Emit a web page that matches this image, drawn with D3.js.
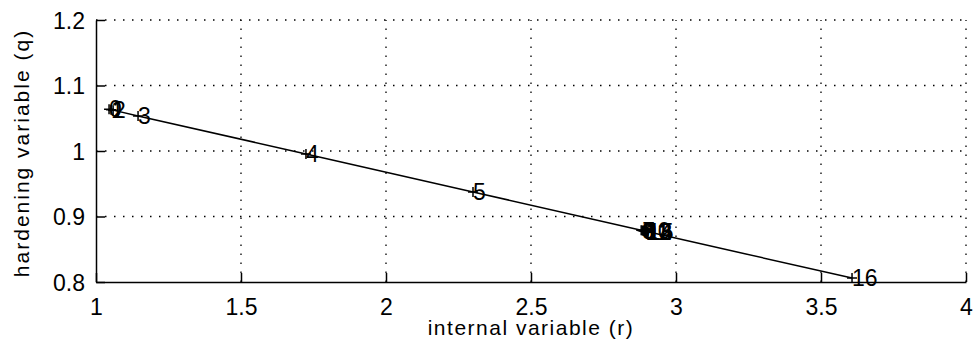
<!DOCTYPE html>
<html>
<head>
<meta charset="utf-8">
<script src="https://cdn.jsdelivr.net/npm/d3@7"></script>
<style>
    body { margin: 0; background: #fff; }
    text { font-family: "Liberation Sans", Arial, sans-serif; fill: #000; }
</style>
</head>
<body>
<div id="chart"></div>
<script>
// iteration values: internal variable r, hardening variable q
var iterLabels = ["0", "1", "2", "3", "4", "5", "6", "7", "8", "9", "10", "11", "12", "13", "14", "15", "16"];
var rValues = [1.045, 1.052, 1.059, 1.145, 1.724, 2.300, 2.880, 2.884, 2.887, 2.890, 2.893, 2.895, 2.897, 2.899, 2.901, 2.903, 3.607];
var qValues = [1.0638, 1.0631, 1.0624, 1.0535, 0.9955, 0.9375, 0.8790, 0.8786, 0.8783, 0.8780, 0.8777, 0.8775, 0.8773, 0.8771, 0.8769, 0.8767, 0.8060];

var xTicks = [1, 1.5, 2, 2.5, 3, 3.5, 4];
var yTicks = [0.8, 0.9, 1, 1.1, 1.2];

var width = 975, height = 358;
var margin = {top: 20, right: 9, bottom: 76, left: 96};

var svg = d3.select("#chart").append("svg")
    .attr("width", width)
    .attr("height", height);

var xScale = d3.scaleLinear()
    .domain([1, 4])
    .range([margin.left, width - margin.right]);

var yScale = d3.scaleLinear()
    .domain([0.8, 1.2])
    .range([height - margin.bottom, margin.top]);

// dotted grid
svg.append("g").selectAll("line")
    .data(xTicks.slice(1))
    .enter().append("line")
    .attr("x1", function(d) { return xScale(d); })
    .attr("x2", function(d) { return xScale(d); })
    .attr("y1", yScale(0.8))
    .attr("y2", yScale(1.2))
    .attr("stroke", "#000")
    .attr("stroke-width", 1.3)
    .attr("stroke-dasharray", "1.5,7.5");

svg.append("g").selectAll("line")
    .data(yTicks.slice(1))
    .enter().append("line")
    .attr("x1", xScale(1))
    .attr("x2", xScale(4))
    .attr("y1", function(d) { return yScale(d); })
    .attr("y2", function(d) { return yScale(d); })
    .attr("stroke", "#000")
    .attr("stroke-width", 1.3)
    .attr("stroke-dasharray", "1.5,7.5");

// axes, ticks pointing inward like matlab
var fmt = function(d) { return String(d); };

var xAxis = d3.axisBottom(xScale)
    .tickValues(xTicks)
    .tickFormat(fmt)
    .tickSizeInner(-9)
    .tickSizeOuter(0)
    .tickPadding(17);

var yAxis = d3.axisLeft(yScale)
    .tickValues(yTicks)
    .tickFormat(fmt)
    .tickSizeInner(-9)
    .tickSizeOuter(0)
    .tickPadding(11);

var gx = svg.append("g")
    .attr("class", "x-axis")
    .attr("transform", "translate(0," + yScale(0.8) + ")")
    .call(xAxis);

var gy = svg.append("g")
    .attr("class", "y-axis")
    .attr("transform", "translate(" + xScale(1) + ",0)")
    .call(yAxis);

svg.selectAll(".x-axis path, .y-axis path, .x-axis line, .y-axis line")
    .attr("stroke", "#000")
    .attr("stroke-width", 1.5);

svg.selectAll(".x-axis text, .y-axis text")
    .style("font-family", "'Liberation Sans', Arial, sans-serif")
    .style("font-size", "23px")
    .attr("fill", "#000");

gy.selectAll("text").attr("dy", "0.36em");

// line through the iterations
var pts = rValues.map(function(r, i) { return {r: r, q: qValues[i], label: iterLabels[i]}; });

var line = d3.line()
    .x(function(d) { return xScale(d.r); })
    .y(function(d) { return yScale(d.q); });

svg.append("path")
    .datum(pts)
    .attr("d", line)
    .attr("fill", "none")
    .attr("stroke", "#000")
    .attr("stroke-width", 1.5);

// plus markers
svg.append("g").selectAll("path")
    .data(pts)
    .enter().append("path")
    .attr("d", function(d) {
        var x = xScale(d.r), y = yScale(d.q);
        return "M" + (x - 5) + "," + y + "H" + (x + 5) + "M" + x + "," + (y - 5) + "V" + (y + 5);
    })
    .attr("stroke", "#000")
    .attr("stroke-width", 1.5);

// iteration numbers
svg.append("g").selectAll("text")
    .data(pts)
    .enter().append("text")
    .attr("x", function(d) { return xScale(d.r); })
    .attr("y", function(d) { return yScale(d.q); })
    .attr("dy", "0.36em")
    .style("font-size", "23px")
    .text(function(d) { return d.label; });

// axis titles
svg.append("text")
    .attr("x", (xScale(1) + xScale(4)) / 2)
    .attr("y", 335)
    .attr("text-anchor", "middle")
    .style("font-size", "21px")
    .style("letter-spacing", "1.5px")
    .text("internal variable (r)");

svg.append("text")
    .attr("transform", "translate(29," + ((yScale(0.8) + yScale(1.2)) / 2 + 2) + ") rotate(-90)")
    .attr("text-anchor", "middle")
    .style("font-size", "21px")
    .style("letter-spacing", "2px")
    .text("hardening variable (q)");
</script>
</body>
</html>
